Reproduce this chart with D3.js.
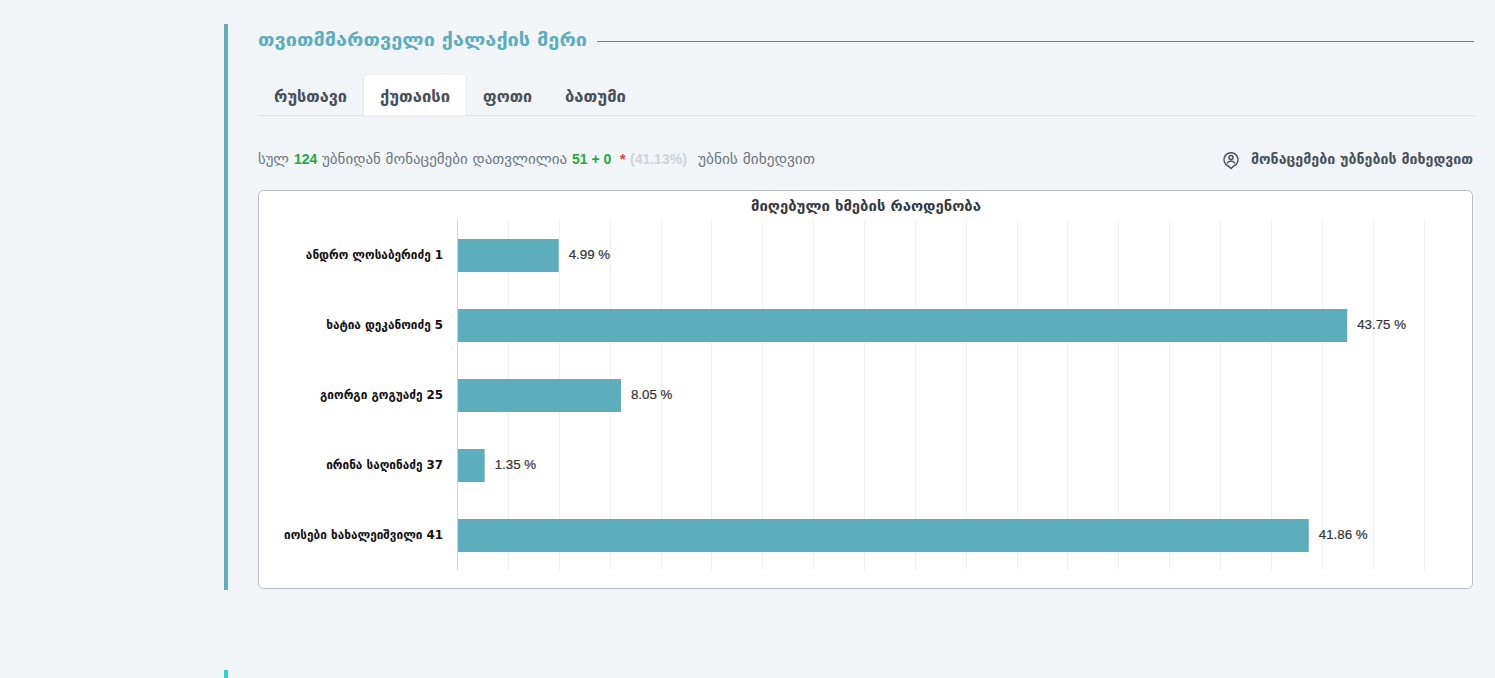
<!DOCTYPE html>
<html><head><meta charset="utf-8">
<script src="https://cdn.jsdelivr.net/npm/d3@7"></script>
<style>
html,body{margin:0;padding:0;background:#f1f5f8;overflow:hidden;width:1495px;height:678px}
svg{position:absolute;left:0;top:0;font-family:"DejaVu Sans",sans-serif}
</style></head><body>
<svg id="c" width="1495" height="678"></svg>
<script>
const candidates=["ანდრო ლოსაბერიძე 1","ხატია დეკანოიძე 5","გიორგი გოგუაძე 25","ირინა საღინაძე 37","იოსები ხახალეიშვილი 41"];
const shares=[4.99,43.75,8.05,1.35,41.86];
const tabs=["რუსთავი","ქუთაისი","ფოთი","ბათუმი"];
const tabX=[274,380,483,565];
const tabW=[73,70,49,61];
const gridTicks=d3.range(0,20).map(i=>i*2.5);
const heading="თვითმმართველი ქალაქის მერი";
const chartTitle="მიღებული ხმების რაოდენობა";

const svg=d3.select("#c");
const txt=(x,y,s,size,fill,weight,anchor,len)=>{
  const t=svg.append("text").attr("x",x).attr("y",y).attr("font-size",size).attr("fill",fill).attr("font-weight",weight||"normal").attr("text-anchor",anchor||"start").text(s);
  if(len) t.attr("textLength",len).attr("lengthAdjust","spacingAndGlyphs");
  return t;
};

svg.append("rect").attr("x",224).attr("y",24).attr("width",4).attr("height",566).attr("fill","#5eadbd");
svg.append("rect").attr("x",224).attr("y",670).attr("width",4).attr("height",8).attr("fill","#2dd4c8");
txt(258,46,heading,18,"#5eadbd","bold","start",329);
svg.append("line").attr("x1",597).attr("x2",1474).attr("y1",41.5).attr("y2",41.5).attr("stroke","#3f97b0");

svg.append("line").attr("x1",258).attr("x2",1474).attr("y1",115.5).attr("y2",115.5).attr("stroke","#dee2e6");
svg.append("path").attr("d","M363.5 116V78a4 4 0 0 1 4-4H462a4 4 0 0 1 4 4V116Z").attr("fill","#fff").attr("stroke","#e6eaee");
tabs.forEach((t,i)=>txt(tabX[i],102,t,15.5,"#495057","bold","start",tabW[i]));

const grey="#6c757d",green="#28a745";
const latin="'Liberation Sans',sans-serif";
txt(258,164,"სულ",13.5,grey,"normal","start",31);
txt(294,164,"124",14,green,"bold").attr("font-family",latin);
txt(322,164,"უბნიდან მონაცემები დათვლილია",13.5,grey,"normal","start",245);
txt(572,164,"51 + 0",14,green,"bold").attr("font-family",latin);
txt(620,164,"*",14,"#e53935","bold").attr("font-family",latin);
txt(630,164,"(41.13%)",14,"#ced4da","bold").attr("font-family",latin);
txt(698,164,"უბნის მიხედვით",13.5,grey,"normal","start",117);

const pin=svg.append("g").attr("fill","none").attr("stroke","#495057").attr("stroke-width",1.5);
pin.append("path").attr("d","M1231 168.5l-2.5-2.3a7 7 0 1 1 5 0Z");
pin.append("circle").attr("cx",1231).attr("cy",157.5).attr("r",2);
pin.append("path").attr("d","M1227 163.5a4.5 4.5 0 0 1 8 0");
txt(1473,164,"მონაცემები უბნების მიხედვით",14,"#495057","bold","end",222);

svg.append("rect").attr("x",258.5).attr("y",190.5).attr("width",1214).attr("height",398).attr("rx",5).attr("fill","#fff").attr("stroke","#b9bec2");
txt(866,211,chartTitle,14.5,"#343a40","bold","middle",230);

const x=d3.scaleLinear().domain([0,47.5]).range([457.2,1423.5]);
const y=d3.scaleBand().domain(candidates).range([220.5,570.5]).paddingInner(37/70).paddingOuter(18.5/70);

svg.append("g").selectAll("line").data(gridTicks.slice(1)).join("line")
 .attr("x1",d=>Math.round(x(d))+.5).attr("x2",d=>Math.round(x(d))+.5).attr("y1",220).attr("y2",570).attr("stroke","#eef0f2");
svg.append("line").attr("x1",457.5).attr("x2",457.5).attr("y1",220).attr("y2",570).attr("stroke","#ccd6dc");

svg.append("g").selectAll("rect").data(candidates).join("rect")
 .attr("x",458).attr("y",d=>y(d)).attr("height",y.bandwidth())
 .attr("width",(d,i)=>x(shares[i])-458).attr("fill","#5eadbd");

svg.append("g").selectAll("text").data(candidates).join("text")
 .attr("x",443).attr("y",d=>y(d)+y.bandwidth()/2+3).attr("text-anchor","end")
 .attr("font-size",11.8).attr("font-weight","bold").attr("fill","#111").text(d=>d);

svg.append("g").selectAll("text").data(shares).join("text")
 .attr("x",d=>x(d)+10).attr("y",(d,i)=>y(candidates[i])+y.bandwidth()/2+3.5)
 .attr("font-family",latin).attr("font-size",13.3).attr("fill","#333").attr("stroke","#333").attr("stroke-width",0.2).text(d=>d.toFixed(2)+" %");
</script></body></html>
